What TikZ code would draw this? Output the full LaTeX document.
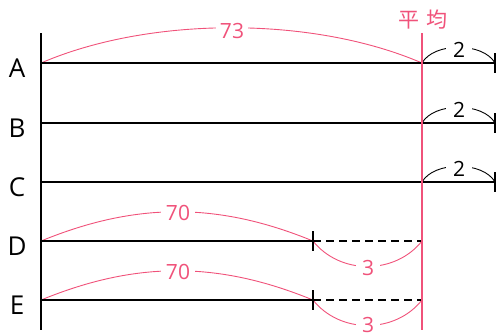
\documentclass[tikz,border=0pt]{standalone}
\usetikzlibrary{calc}
\usepackage{fontspec}
\setmainfont{Open Sans}
\newfontfamily\cjk{Noto Sans CJK JP}
\definecolor{pk}{RGB}{240,82,122}
\begin{document}
\begin{tikzpicture}[x=1pt,y=-1pt,
  bar/.style={line width=2.6pt,black},
  avgline/.style={line width=2.6pt,pk},
  pkarc/.style={pk,line width=0.9pt},
  bkarc/.style={black,line width=0.9pt},
  pklab/.style={pk,fill=white,inner sep=1pt,font=\fontsize{21}{21}\selectfont},
  bklab/.style={black,fill=white,inner sep=1pt,font=\fontsize{21}{21}\selectfont},
  rowlab/.style={black,font=\fontsize{26}{26}\selectfont},
  endtick/.style={line width=2.4pt,black}]
\useasboundingbox (0,0) rectangle (497,333);
% axis and average line
\coordinate (axT) at (41,33); \coordinate (axB) at (41,330);
\coordinate (avT) at (422,33); \coordinate (avB) at (422,330);
% rows
\foreach \n/\y in {A/63,B/123,C/182,D/241,E/300}{
  \coordinate (\n0) at (41,\y);
  \coordinate (\n1) at (422,\y);
  \node[rowlab] (lab\n) at (17,\y+5) {\n};
}
\foreach \n/\y in {A/63,B/123,C/182}{
  \coordinate (\n2) at (495,\y);
  \coordinate (\n2t) at (495,\y-10);
  \coordinate (\n2b) at (495,\y+10);
}
\foreach \n/\y in {D/241,E/300}{
  \coordinate (\n3) at (313,\y);
  \coordinate (\n3t) at (313,\y-10);
  \coordinate (\n3b) at (313,\y+10);
}
% arcs behind
\draw[pkarc] (A0) .. controls (150,16) and (313,16) .. (A1);
\node[pklab,inner xsep=4pt] (n73) at (232,31) {73};
\foreach \n in {A,B,C}{
  \draw[bkarc] (\n1) .. controls ($(\n1)+(12,-21)$) and ($(\n2)+(-12,-21)$) .. (\n2);
}
\node[bklab,inner xsep=7pt] (t2a) at (459,50) {2};
\node[bklab,inner xsep=7pt] (t2b) at (459,110) {2};
\node[bklab,inner xsep=7pt] (t2c) at (459,169) {2};
\foreach \n in {D,E}{
  \draw[pkarc] (\n0) .. controls ($(\n0)+(95,-39)$) and ($(\n3)+(-95,-39)$) .. (\n3);
  \draw[pkarc] (\n3) .. controls ($(\n3)+(27,34)$) and ($(\n1)+(-27,34)$) .. (\n1);
}
\node[pklab,inner xsep=5pt] (t70d) at (178,213) {70};
\node[pklab,inner xsep=5pt] (t70e) at (178,272) {70};
\node[pklab,inner xsep=6pt] (t3d) at (368,268) {3};
\node[pklab,inner xsep=6pt] (t3e) at (368,325) {3};
% bars
\foreach \n in {A,B,C}{
  \draw[bar] (\n0) -- (\n2);
  \draw[endtick] (\n2t) -- (\n2b);
}
\foreach \n in {D,E}{
  \draw[bar] (\n0) -- (\n3);
  \draw[bar,dash pattern=on 8pt off 5pt,line width=2.2pt] (\n3) -- (\n1);
  \draw[endtick] (\n3t) -- (\n3b);
}
\draw[bar] (axT) -- (axB);
\draw[avgline] (avT) -- (avB);
\node[pk,font=\cjk\fontsize{21}{21}\selectfont] (avg) at (423,20) {平\hspace{7pt}均};
\end{tikzpicture}
\end{document}
